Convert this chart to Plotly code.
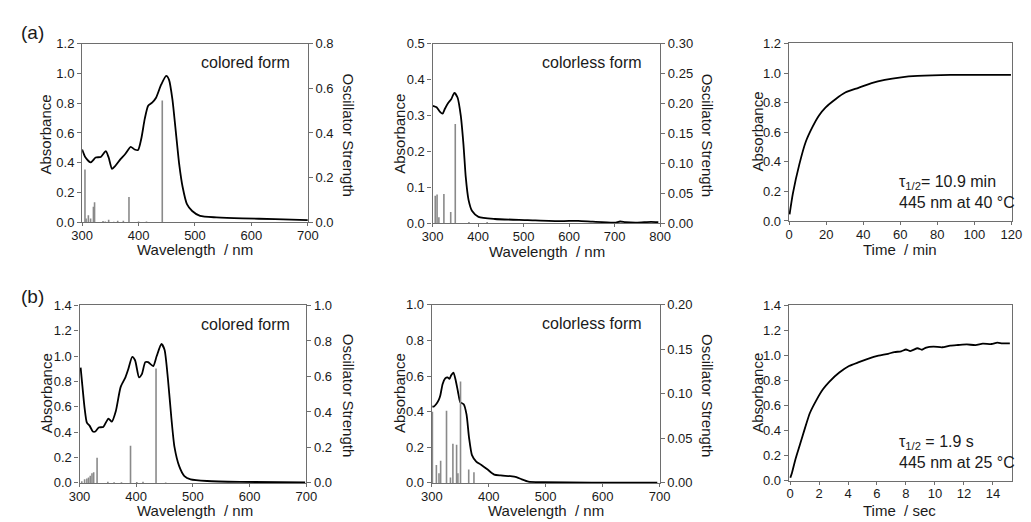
import plotly.graph_objects as go

# ---------------- data ----------------
# (a) colored form spectrum
a_col_wl = [300, 306, 315, 324, 333, 342, 347, 353, 359, 368, 376, 386, 393, 399, 405, 411, 417, 424, 431,
            440, 449, 454, 460, 466, 472, 478, 486, 495, 509, 538, 584, 642, 700]
a_col_abs = [0.489, 0.435, 0.402, 0.435, 0.439, 0.478, 0.435, 0.359, 0.380, 0.424, 0.457, 0.507, 0.489,
             0.485, 0.565, 0.696, 0.783, 0.804, 0.837, 0.924, 0.983, 0.957, 0.826, 0.609, 0.391, 0.239,
             0.120, 0.076, 0.043, 0.033, 0.026, 0.022, 0.015]
a_col_st_wl = [305, 307, 311, 315, 320, 322, 337, 341, 347, 356, 363, 373, 383, 400, 414, 442]
a_col_st_f = [0.236, 0.017, 0.032, 0.017, 0.070, 0.090, 0.006, 0.004, 0.012, 0.003, 0.007, 0.007,
              0.113, 0.004, 0.004, 0.545]

# (a) colorless form spectrum
a_cl_wl = [301, 309, 316, 322, 327, 334, 341, 348, 355, 362, 368, 373, 379, 387, 401, 437, 509, 581,
           620, 652, 700, 712, 724, 750, 780, 796]
a_cl_abs = [0.327, 0.323, 0.311, 0.305, 0.318, 0.334, 0.345, 0.363, 0.350, 0.300, 0.219, 0.129, 0.066,
            0.034, 0.018, 0.012, 0.009, 0.006, 0.007, 0.0045, 0.002, 0.005, 0.003, 0.002, 0.004, 0.003]
a_cl_st_wl = [306, 310, 314, 325, 340, 350, 380, 420]
a_cl_st_f = [0.046, 0.048, 0.010, 0.049, 0.019, 0.166, 0.002, 0.002]

# (a) kinetics
a_t = [0.2, 2, 5.5, 9, 12.6, 16.1, 19.7, 25, 30.3, 37.4, 44.5, 51.6, 60.5, 69.3, 87, 104.8, 119.8]
a_k = [0.044, 0.186, 0.384, 0.537, 0.636, 0.713, 0.768, 0.823, 0.868, 0.900, 0.932, 0.954, 0.971,
       0.980, 0.987, 0.987, 0.987]

# (b) colored form spectrum
b_col_wl = [302, 305, 309, 313, 318, 323.5, 328, 334, 342, 351, 357, 364, 372.5, 381, 386, 393, 398,
            405, 410, 416, 421, 430, 436, 444.5, 450, 456, 462, 467.5, 476, 485, 496, 525, 583, 698]
b_col_abs = [0.91, 0.769, 0.590, 0.475, 0.450, 0.406, 0.406, 0.437, 0.442, 0.508, 0.483, 0.565, 0.756,
             0.833, 0.897, 0.994, 0.968, 0.833, 0.858, 0.953, 0.953, 0.922, 0.999, 1.096, 1.05, 0.82,
             0.514, 0.284, 0.130, 0.054, 0.028, 0.015, 0.008, 0.005]
b_col_st_wl = [304, 309, 313, 316, 319, 322, 325, 331, 350, 361, 374, 390, 401, 412, 435, 452]
b_col_st_f = [0.010, 0.020, 0.025, 0.030, 0.040, 0.055, 0.060, 0.142, 0.006, 0.004, 0.004, 0.210,
              0.005, 0.006, 0.645, 0.003]

# (b) colorless form spectrum
b_cl_wl = [301, 303.4, 307.5, 312, 315, 319, 323.5, 327.5, 331, 334, 338, 342, 346, 350, 356, 361, 365.3,
           370.5, 378, 386.5, 398, 409.5, 421, 438, 448.5, 458, 469.6, 495, 581, 696]
b_cl_abs = [0.430, 0.429, 0.442, 0.465, 0.493, 0.556, 0.587, 0.593, 0.584, 0.605, 0.620, 0.575, 0.511,
            0.453, 0.442, 0.384, 0.256, 0.156, 0.120, 0.102, 0.075, 0.047, 0.042, 0.038, 0.033, 0.020,
            0.007, 0.004, 0.002, 0.002]
b_cl_st_wl = [301, 308, 312.6, 315.5, 325.8, 332.7, 337, 343.5, 345.8, 350.4, 364.8, 374]
b_cl_st_f = [0.080, 0.020, 0.011, 0.025, 0.081, 0.006, 0.044, 0.043, 0.011, 0.114, 0.015, 0.012]

# (b) kinetics
b_t = [0.02, 0.13, 0.36, 0.7, 1.04, 1.37, 1.82, 2.27, 2.72, 3.4, 4.07, 4.75, 5.42, 6.1, 6.77, 7.2,
       7.67, 8.0, 8.3, 8.8, 9.1, 9.4, 9.9, 10.5, 11.05, 11.6, 12.2, 12.8, 13.3, 13.9, 14.3, 14.65, 15.17]
b_k = [0.023, 0.062, 0.166, 0.295, 0.424, 0.541, 0.644, 0.730, 0.792, 0.864, 0.916, 0.947, 0.976,
       0.999, 1.014, 1.028, 1.033, 1.048, 1.036, 1.058, 1.046, 1.064, 1.071, 1.066, 1.079, 1.084,
       1.089, 1.083, 1.095, 1.092, 1.103, 1.097, 1.097]

# ---------------- helpers ----------------
W, H = 1031, 522
FONT = "Arial, Liberation Sans, sans-serif"
AXC = "#6e6e6e"
TXT = "#1a1a1a"


def px_x(p):
    return p / W


def px_y(p):
    return 1 - p / H


def sticks(xs, ys):
    sx, sy = [], []
    for x, y in zip(xs, ys):
        sx += [x, x, None]
        sy += [0, y, None]
    return sx, sy


fig = go.Figure()

curve = dict(color="black", width=1.8, shape="spline", smoothing=0.6)
stick = dict(color="#8a8a8a", width=1.6)

panels = [
    ("x", "y", "y7", a_col_wl, a_col_abs, a_col_st_wl, a_col_st_f),
    ("x2", "y2", "y8", a_cl_wl, a_cl_abs, a_cl_st_wl, a_cl_st_f),
    ("x3", "y3", None, a_t, a_k, None, None),
    ("x4", "y4", "y9", b_col_wl, b_col_abs, b_col_st_wl, b_col_st_f),
    ("x5", "y5", "y10", b_cl_wl, b_cl_abs, b_cl_st_wl, b_cl_st_f),
    ("x6", "y6", None, b_t, b_k, None, None),
]
for xa, ya, ya2, xd, yd, sxd, syd in panels:
    if ya2:
        sx, sy = sticks(sxd, syd)
        fig.add_trace(go.Scatter(x=sx, y=sy, mode="lines", line=stick, xaxis=xa, yaxis=ya2,
                                 showlegend=False, hoverinfo="skip"))
    fig.add_trace(go.Scatter(x=xd, y=yd, mode="lines", line=curve, xaxis=xa, yaxis=ya,
                             showlegend=False))

base_ax = dict(showline=True, linecolor=AXC, linewidth=1.2, mirror=True, ticks="outside",
               ticklen=4, tickwidth=1, tickcolor=AXC, showgrid=False, zeroline=False,
               tickfont=dict(family=FONT, size=13, color=TXT))

# pixel boxes: (x0, x1, ytop, ybottom)
boxes = [
    (72.7, 303.3, 37.7, 221.7),
    (430.7, 663.3, 37.7, 222.7),
    (794.7, 1022.5, 37.5, 220.3),
    (70.0, 301.7, 307.3, 490.0),
    (430.0, 662.7, 306.7, 490.0),
    (794.7, 1023.0, 307.3, 487.7),
]
x_ranges = [[300, 700], [300, 800], [-0.25, 120.2], [300, 700], [300, 700], [-0.09, 15.33]]
x_ticks = [[300, 400, 500, 600, 700], [300, 400, 500, 600, 700, 800],
           [0, 20, 40, 60, 80, 100, 120], [300, 400, 500, 600, 700], [300, 400, 500, 600, 700],
           [0, 2, 4, 6, 8, 10, 12, 14]]
y_ranges = [[0, 1.2], [0, 0.5], [0, 1.2], [0, 1.4], [0, 1.0], [0, 1.4]]
y_ticks = [[0, 0.2, 0.4, 0.6, 0.8, 1.0, 1.2], [0, 0.1, 0.2, 0.3, 0.4, 0.5],
           [0, 0.2, 0.4, 0.6, 0.8, 1.0, 1.2], [0, 0.2, 0.4, 0.6, 0.8, 1.0, 1.2, 1.4],
           [0, 0.2, 0.4, 0.6, 0.8, 1.0], [0, 0.2, 0.4, 0.6, 0.8, 1.0, 1.2, 1.4]]

layout = {}
for i, (x0, x1, yt, yb) in enumerate(boxes):
    n = "" if i == 0 else str(i + 1)
    layout["xaxis" + n] = dict(base_ax, domain=[px_x(x0), px_x(x1)], range=x_ranges[i],
                               tickvals=x_ticks[i], anchor="y" + n, ticklen=3,
                               ticklabelstandoff=-2)
    layout["yaxis" + n] = dict(base_ax, domain=[px_y(yb), px_y(yt)], range=y_ranges[i],
                               tickvals=y_ticks[i], tickformat=".1f", anchor="x" + n)

sec = [("yaxis7", "y", "x", [0, 0.8], [0, 0.2, 0.4, 0.6, 0.8], ".1f"),
       ("yaxis8", "y2", "x2", [0, 0.30], [0, 0.05, 0.10, 0.15, 0.20, 0.25, 0.30], ".2f"),
       ("yaxis9", "y4", "x4", [0, 1.0], [0, 0.2, 0.4, 0.6, 0.8, 1.0], ".1f"),
       ("yaxis10", "y5", "x5", [0, 0.20], [0, 0.05, 0.10, 0.15, 0.20], ".2f")]
for name, over, anc, rng, tv, fmt in sec:
    layout[name] = dict(base_ax, overlaying=over, anchor=anc, side="right", range=rng,
                        tickvals=tv, tickformat=fmt, mirror=False)

fig.update_layout(**layout)

ann = []


def add_text(text, x, y, size=15, angle=0, xanchor="center", yanchor="middle", align="center"):
    ann.append(dict(text=text, x=px_x(x), y=px_y(y), xref="paper", yref="paper", showarrow=False,
                    textangle=angle, xanchor=xanchor, yanchor=yanchor, align=align,
                    font=dict(family=FONT, size=size, color=TXT)))


add_text("(a)", 22, 26, size=19)
add_text("(b)", 22, 298, size=19)
for (x, y) in [(35, 131), (397, 131), (762.5, 128), (36.5, 398), (397, 398), (762.5, 397)]:
    add_text("Absorbance", x, y, angle=-90)
for (x, y) in [(345, 132), (711.7, 132), (345, 400), (711.7, 400)]:
    add_text("Oscillator Strength", x, y, angle=90)
for (t, x, y) in [("Wavelength\u00a0 / nm", 188, 250), ("Wavelength\u00a0 / nm", 548, 251.5),
                  ("Time\u00a0 / min", 908, 250), ("Wavelength\u00a0 / nm", 188, 518),
                  ("Wavelength\u00a0 / nm", 547, 518), ("Time\u00a0 / sec", 908, 518)]:
    add_text(t, x, y)
add_text("colored form", 287, 57, size=16, xanchor="right")
add_text("colorless form", 647, 57, size=16, xanchor="right")
add_text("colored form", 287, 327, size=16, xanchor="right")
add_text("colorless form", 647, 326, size=16, xanchor="right")
add_text("τ<sub>1/2</sub>= 10.9 min<br>445 nm at 40 °C", 905, 190, size=16, xanchor="left",
         align="left")
add_text("τ<sub>1/2</sub> = 1.9 s<br>445 nm at 25 °C", 905, 458, size=16, xanchor="left",
         align="left")

fig.update_layout(annotations=ann, width=W, height=H, margin=dict(l=0, r=0, t=0, b=0),
                  paper_bgcolor="white", plot_bgcolor="white",
                  font=dict(family=FONT, size=13, color=TXT))

fig.write_html("out.html", config={"displayModeBar": False},
               post_script="document.body.style.margin='0';document.body.style.overflow='hidden';")
